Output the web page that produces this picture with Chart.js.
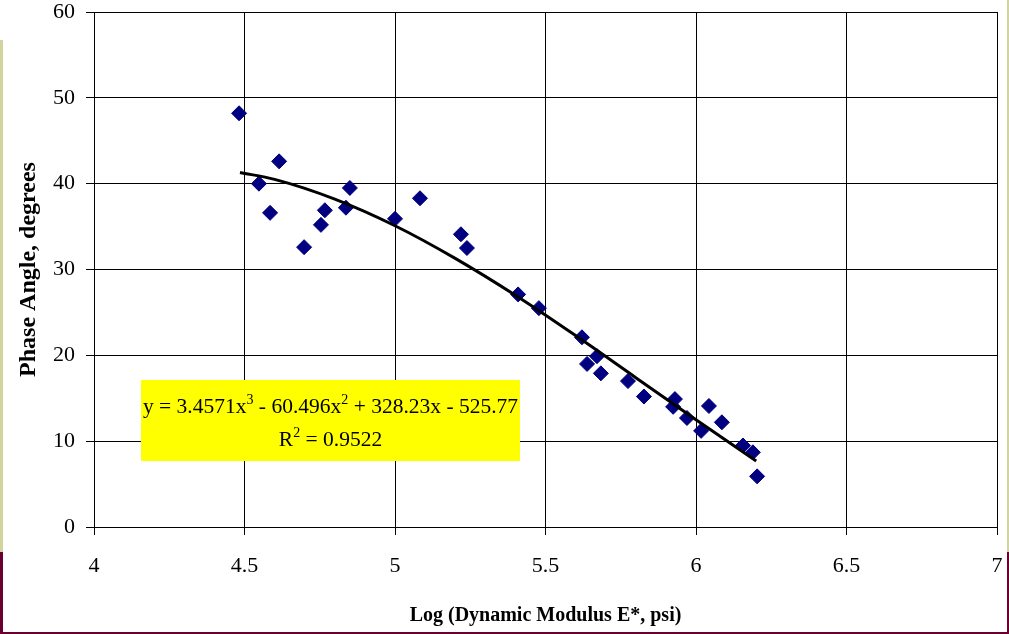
<!DOCTYPE html>
<html>
<head>
<meta charset="utf-8">
<title>Phase Angle vs Log Dynamic Modulus</title>
<script src="https://cdn.jsdelivr.net/npm/chart.js@4.4.1/dist/chart.umd.min.js"></script>
<style>
	html, body { margin: 0; padding: 0; background: #fff; }
	#wrap { width: 1009px; height: 634px; }
</style>
</head>
<body>
<div id="wrap"><canvas id="myChart" width="1009" height="634"></canvas></div>
<script>
/* data */
const logModulus = [4.482, 4.548, 4.585, 4.615, 4.698, 4.754, 4.767, 4.837, 4.850, 5.000,
	5.083, 5.219, 5.239, 5.409, 5.478, 5.621, 5.638, 5.671, 5.684, 5.774,
	5.827, 5.924, 5.930, 5.970, 6.017, 6.043, 6.086, 6.156, 6.189, 6.203];
const phaseAngle = [48.2, 40.0, 36.6, 42.6, 32.6, 35.2, 36.9, 37.2, 39.5, 35.9,
	38.3, 34.1, 32.5, 27.1, 25.5, 22.1, 19.0, 19.9, 17.9, 17.0,
	15.2, 14.0, 14.9, 12.7, 11.2, 14.1, 12.2, 9.5, 8.7, 5.9];

/* poly trendline */
const trendX = [4.485, 4.6, 4.8, 5.0, 5.2, 5.4, 5.6, 5.8, 6.0, 6.2];
const trendY = [41.3, 40.5, 38.2, 35.1, 31.3, 27.0, 22.3, 17.4, 12.5, 7.7];

const xTickValues = [4, 4.5, 5, 5.5, 6, 6.5, 7];
const xTickLabels = ['4', '4.5', '5', '5.5', '6', '6.5', '7'];
const yTickValues = [0, 10, 20, 30, 40, 50, 60];
const yTickLabels = ['0', '10', '20', '30', '40', '50', '60'];

const eqLine1 = [['y = 3.4571x', ''], ['3', 'sup'], [' - 60.496x', ''], ['2', 'sup'], [' + 328.23x - 525.77', '']];
const eqLine2 = [['R', ''], ['2', 'sup'], [' = 0.9522', '']];

const serif = "'Liberation Serif', 'Times New Roman', serif";

/* slide frame strips + white background */
const framePlugin = {
	id: 'frame',
	beforeDraw(chart) {
		const c = chart.ctx;
		c.save();
		c.fillStyle = '#ffffff';
		c.fillRect(0, 0, chart.width, chart.height);
		c.fillStyle = '#d3d3a0';
		c.fillRect(0, 40, 3, 512);
		c.fillRect(1007, 0, 2, 552);
		c.fillStyle = '#6b0030';
		c.fillRect(0, 552, 3, 82);
		c.fillRect(1007, 552, 2, 82);
		c.fillRect(0, 632, 1009, 2);
		c.restore();
	}
};

function drawRich(c, parts, cx, baseline, size) {
	const supSize = Math.round(size * 0.64);
	let total = 0;
	parts.forEach(p => {
		c.font = (p[1] === 'sup' ? supSize : size) + 'px ' + serif;
		total += c.measureText(p[0]).width;
	});
	let x = cx - total / 2;
	parts.forEach(p => {
		const sup = p[1] === 'sup';
		c.font = (sup ? supSize : size) + 'px ' + serif;
		c.fillText(p[0], x, sup ? baseline - size * 0.4 : baseline);
		x += c.measureText(p[0]).width;
	});
}

/* equation label box */
const equationPlugin = {
	id: 'equation',
	afterDatasetsDraw(chart) {
		const c = chart.ctx;
		const a = chart.chartArea;
		const bx = a.left + 47, by = a.top + 368, bw = 379, bh = 81;
		c.save();
		c.fillStyle = '#ffff00';
		c.fillRect(bx, by, bw, bh);
		c.fillStyle = '#000000';
		c.textBaseline = 'alphabetic';
		c.textAlign = 'left';
		drawRich(c, eqLine1, bx + bw / 2, by + 33, 21.5);
		drawRich(c, eqLine2, bx + bw / 2, by + 66, 21.5);
		c.restore();
	}
};

const ctx = document.getElementById('myChart');

new Chart(ctx, {
	type: 'scatter',
	data: {
		datasets: [
			{
				label: 'Trend',
				data: trendX.map((x, i) => ({ x: x, y: trendY[i] })),
				showLine: true,
				borderColor: '#000000',
				borderWidth: 3,
				pointRadius: 0,
				cubicInterpolationMode: 'monotone',
				order: 0
			},
			{
				label: 'Phase Angle',
				data: logModulus.map((x, i) => ({ x: x, y: phaseAngle[i] })),
				pointStyle: 'rectRot',
				pointRadius: 7.5,
				backgroundColor: '#000080',
				borderColor: '#000080',
				borderWidth: 1,
				order: 1
			}
		]
	},
	options: {
		responsive: false,
		animation: false,
		devicePixelRatio: 1,
		layout: { padding: { top: 12, right: 12, left: 0, bottom: 0 } },
		plugins: {
			legend: { display: false },
			tooltip: { enabled: false }
		},
		scales: {
			x: {
				type: 'linear',
				min: 4,
				max: 7,
				afterBuildTicks: (s) => { s.ticks = xTickValues.map(v => ({ value: v })); },
				afterFit: (s) => { s.height = 107; s.paddingLeft = 0; s.paddingRight = 0; },
				grid: { color: '#000000', lineWidth: 1, tickLength: 8, tickColor: '#000000' },
				border: { color: '#000000', width: 1 },
				ticks: {
					color: '#000000',
					padding: 18,
					maxRotation: 0,
					autoSkip: false,
					font: { family: serif, size: 22 },
					callback: (v, i) => xTickLabels[i]
				},
				title: {
					display: true,
					text: 'Log (Dynamic Modulus E*, psi)',
					color: '#000000',
					font: { family: serif, size: 20, weight: 'bold' },
					padding: { top: 0, bottom: 6 }
				}
			},
			y: {
				type: 'linear',
				min: 0,
				max: 60,
				afterBuildTicks: (s) => { s.ticks = yTickValues.map(v => ({ value: v })); },
				afterFit: (s) => { s.width = 94; s.paddingTop = 0; s.paddingBottom = 0; },
				grid: { color: '#000000', lineWidth: 1, tickLength: 8, tickColor: '#000000' },
				border: { color: '#000000', width: 1 },
				ticks: {
					color: '#000000',
					padding: 11,
					autoSkip: false,
					font: { family: serif, size: 22 },
					callback: (v, i) => yTickLabels[i]
				},
				title: {
					display: true,
					text: 'Phase Angle, degrees',
					color: '#000000',
					font: { family: serif, size: 24, weight: 'bold' },
					padding: { top: 14, bottom: 0 }
				}
			}
		}
	},
	plugins: [framePlugin, equationPlugin]
});
</script>
</body>
</html>
